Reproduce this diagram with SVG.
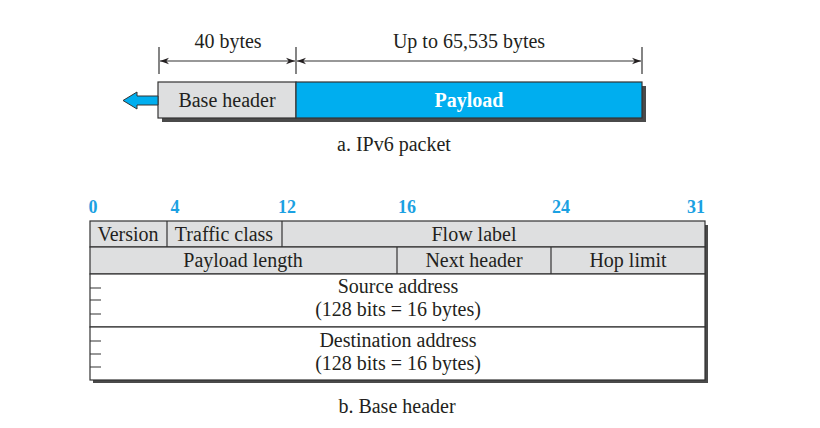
<svg xmlns="http://www.w3.org/2000/svg" width="820" height="428" viewBox="0 0 820 428">
<style>
text{font-family:"Liberation Serif","Times New Roman",serif;fill:#231f20}
.l{font-size:20px;text-anchor:middle}
.b{font-size:18px;font-weight:bold;fill:#1ba1e2;text-anchor:middle}
.ln{stroke:#333;stroke-width:1.2;fill:none}
.gr{fill:#dedfe0;stroke:#333;stroke-width:1.2}
.wh{fill:#fff;stroke:#333;stroke-width:1.2}
.sh{fill:#4a4a4a}
</style>
<defs>
<marker id="ah" viewBox="0 0 10 10" refX="10" refY="5" markerWidth="9" markerHeight="9" orient="auto-start-reverse" markerUnits="userSpaceOnUse">
<path d="M0,1.5 L10,5 L0,8.5 L3,5 Z" fill="#231f20"/>
</marker>
</defs>
<rect width="820" height="428" fill="#fff"/>
<!-- a. IPv6 packet -->
<g id="dimensions">
<line class="ln" x1="159" y1="47" x2="159" y2="74"/>
<line class="ln" x1="296" y1="47" x2="296" y2="74"/>
<line class="ln" x1="642" y1="47" x2="642" y2="74"/>
<line class="ln" x1="160" y1="61" x2="295" y2="61" marker-start="url(#ah)" marker-end="url(#ah)"/>
<line class="ln" x1="297" y1="61" x2="641" y2="61" marker-start="url(#ah)" marker-end="url(#ah)"/>
<text class="l" x="228" y="48">40 bytes</text>
<text class="l" x="469" y="48">Up to 65,535 bytes</text>
</g>
<g id="packet">
<rect class="sh" x="162" y="86" width="484" height="36"/>
<rect class="gr" x="158" y="82" width="138" height="36"/>
<rect x="296" y="82" width="346" height="36" fill="#00aeef" stroke="#333" stroke-width="1.2"/>
<text class="l" x="227" y="107">Base header</text>
<text class="l" x="469" y="107" style="font-weight:bold;fill:#fff">Payload</text>
</g>
<g id="direction-arrow">
<path d="M158,96 L137,96 L137,92 L123,100.5 L137,109 L137,105 L158,105 Z" fill="#00aeef" stroke="#333" stroke-width="1"/>
</g>
<text class="l" x="394" y="151">a. IPv6 packet</text>
<!-- b. Base header -->
<g id="bit-numbers">
<text class="b" x="93" y="213">0</text>
<text class="b" x="175" y="213">4</text>
<text class="b" x="287" y="213">12</text>
<text class="b" x="407" y="213">16</text>
<text class="b" x="561" y="213">24</text>
<text class="b" x="696" y="213">31</text>
</g>
<g id="header">
<rect class="sh" x="93" y="225" width="615" height="158"/>
<rect class="gr" x="90" y="221" width="615" height="26"/>
<rect class="gr" x="90" y="247" width="615" height="27"/>
<rect class="wh" x="90" y="274" width="615" height="53"/>
<rect class="wh" x="90" y="327" width="615" height="53"/>
</g>
<g id="fields">
<line class="ln" x1="167" y1="221" x2="167" y2="247"/>
<line class="ln" x1="282" y1="221" x2="282" y2="247"/>
<line class="ln" x1="397" y1="247" x2="397" y2="274"/>
<line class="ln" x1="551" y1="247" x2="551" y2="274"/>
<path class="ln" d="M90,288 H101 M90,300 H101 M90,314 H101 M90,341 H101 M90,354 H101 M90,367 H101"/>
<text class="l" x="128" y="241">Version</text>
<text class="l" x="224" y="241">Traffic class</text>
<text class="l" x="474" y="241">Flow label</text>
<text class="l" x="243" y="267">Payload length</text>
<text class="l" x="474" y="267">Next header</text>
<text class="l" x="628" y="267">Hop limit</text>
<text class="l" x="398" y="293">Source address</text>
<text class="l" x="398" y="316">(128 bits = 16 bytes)</text>
<text class="l" x="398" y="347">Destination address</text>
<text class="l" x="398" y="370">(128 bits = 16 bytes)</text>
</g>
<text class="l" x="397" y="413">b. Base header</text>
</svg>
